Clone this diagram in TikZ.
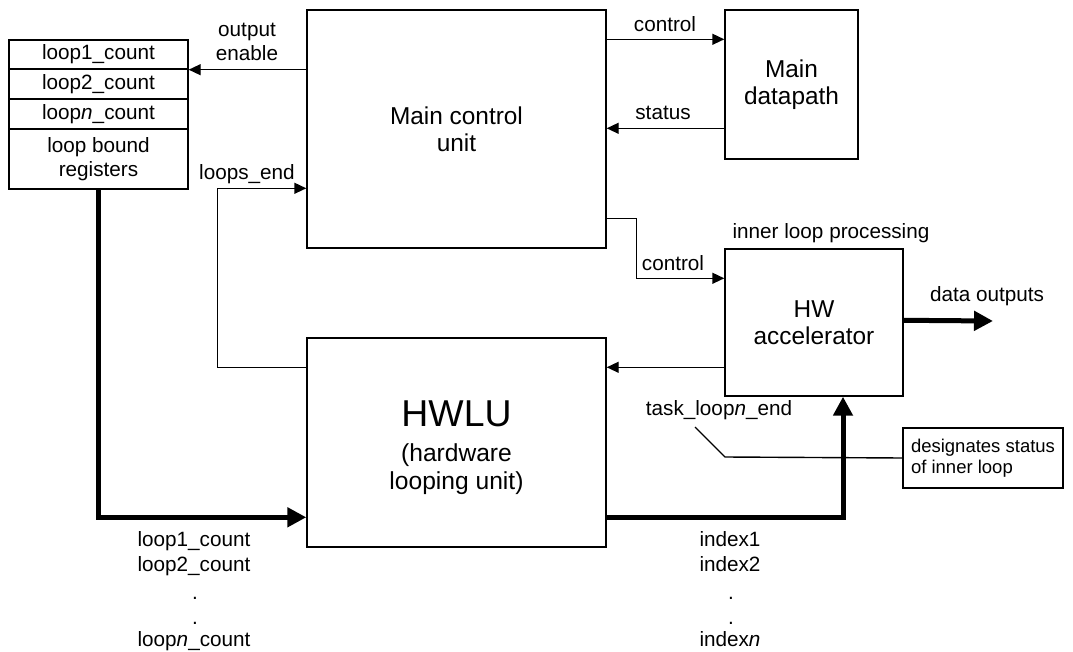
\documentclass[tikz,border=0pt]{standalone}
\usepackage{fontspec}
\setmainfont{Liberation Sans}
\usetikzlibrary{arrows.meta}
\newcommand\lblfont{\fontsize{20.7}{24}\selectfont}
\newcommand\boxfont{\fontsize{24.4}{27}\selectfont}
\newcommand\subfont{\fontsize{24.6}{28}\selectfont}
\newcommand\notefont{\fontsize{18.5}{21}\selectfont}
\begin{document}
\begin{tikzpicture}[x=1pt,y=-1pt,
  box/.style={draw, line width=1.4pt, inner sep=0pt, align=center},
  lbl/.style={font=\lblfont, inner sep=0pt, align=center},
  thinline/.style={line width=1.4pt},
  arr/.style={line width=1.4pt, -{Triangle[length=12pt,width=11pt]}},
  barr/.style={line width=5pt, -{Triangle[length=19pt,width=19pt]}}]
\useasboundingbox (0,0) rectangle (1073,652);

% main blocks
\node[box, minimum width=299pt, minimum height=238pt, font=\boxfont] (mcu) at (456.5,129) {Main control\\unit};
\node[box, minimum width=133pt, minimum height=149pt, font=\boxfont] (dp) at (791.5,84.5) {Main\\datapath};
\node[box, minimum width=178pt, minimum height=147pt, font=\boxfont] (acc) at (814,322.5) {HW\\accelerator};
\node[box, minimum width=299pt, minimum height=209pt, font=\subfont] (hwlu) at (456.5,442.5) {{\fontsize{37.4}{40}\selectfont\rule{0pt}{36pt}HWLU}\\[7pt](hardware\\looping unit)};

% register stack
\node[box, minimum width=179pt, minimum height=29pt, font=\lblfont] (r1) at (98.5,54.5) {loop1\_count};
\node[box, minimum width=179pt, minimum height=30pt, font=\lblfont] (r2) at (98.5,84) {loop2\_count};
\node[box, minimum width=179pt, minimum height=30pt, font=\lblfont] (r3) at (98.5,114) {loop\textit{n}\_count};
\node[box, minimum width=179pt, minimum height=60pt, font=\lblfont] (r4) at (98.5,159) {loop bound\\registers};

% note box
\node[box, minimum width=160pt, minimum height=60pt, font=\notefont, align=left] (des) at (983,458) {designates status\\of inner loop};

% labels
\node[lbl] (oe) at (247,42) {output\\enable};
\node[lbl] (le) at (247,174) {loops\_end};
\node[lbl] (c1) at (665,24) {control};
\node[lbl] (st) at (663,113) {status};
\node[lbl] (ilp) at (831,233) {inner loop processing};
\node[lbl] (c2) at (673,263) {control};
\node[lbl] (tle) at (719,410) {task\_loop\textit{n}\_end};
\node[lbl] (dout) at (987,296) {data outputs};

\node[lbl, anchor=base] (b1) at (194,546) {loop1\_count};
\node[lbl, anchor=base] (b2) at (194,571) {loop2\_count};
\node[lbl, anchor=base] (b3) at (195,599) {.};
\node[lbl, anchor=base] (b4) at (195,624) {.};
\node[lbl, anchor=base] (b5) at (194,646) {loop\textit{n}\_count};

\node[lbl, anchor=base] (i1) at (730,546) {index1};
\node[lbl, anchor=base] (i2) at (730,571) {index2};
\node[lbl, anchor=base] (i3) at (731,599) {.};
\node[lbl, anchor=base] (i4) at (731,624) {.};
\node[lbl, anchor=base] (i5) at (730,646) {index\textit{n}};

% connectors
\draw[arr] (mcu.west |- r1.south east) -- (r1.south east);
\draw[arr] ([yshift=-30pt]mcu.north east) -- ([yshift=-30pt]dp.north west);
\draw[arr] ([yshift=-119pt]dp.north west) -- ([yshift=-119pt]mcu.north east);
\draw[arr] ([yshift=-209pt]mcu.north east) -- ++(30,0) |- ([yshift=-30pt]acc.north west);
\draw[arr] ([yshift=-30pt]hwlu.north west) -- ++(-89,0) |- ([yshift=-179pt]mcu.north west);
\draw[arr] ([yshift=-119pt]acc.north west) -- ([yshift=-30pt]hwlu.north east);
\draw[barr] (r4.south) |- ([yshift=-180pt]hwlu.north west);
\draw[barr] ([yshift=-180pt]hwlu.north east) -| ([xshift=29pt]acc.south);
\coordinate (dend) at (993,321);
\draw[barr] ([yshift=-72pt]acc.north east) -- (dend);

% callout
\coordinate (cs) at (695,427);
\coordinate (cb) at (725,457);
\draw[thinline] (cs) -- (cb) -- (des.west);
\end{tikzpicture}
\end{document}
